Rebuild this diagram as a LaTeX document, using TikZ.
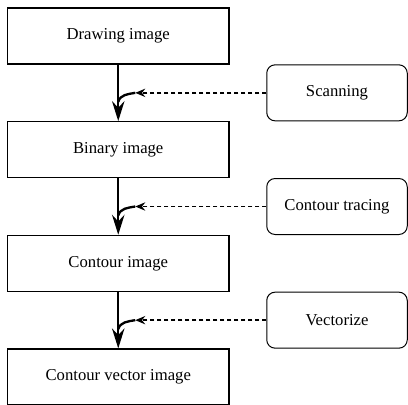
\documentclass[tikz,border=0pt]{standalone}
\usepackage{fontspec}
\setmainfont{Liberation Serif}
\usetikzlibrary{positioning, arrows.meta, calc}

\begin{document}
\begin{tikzpicture}[
  x=0.6pt, y=-0.6pt,
  font=\normalsize,
  node distance=33.9pt,
  >={Stealth[length=12pt,width=7.5pt,inset=4pt]},
  imgbox/.style={
    draw=black, line width=0.7pt,
    minimum width=132.9pt, minimum height=33.6pt, inner sep=2pt
  },
  opbox/.style={
    draw=black, line width=0.6pt, rounded corners=5pt,
    minimum width=84.3pt, minimum height=33.6pt, inner sep=2pt
  },
  flow/.style={->, line width=1pt},
  hint/.style={line width=0.9pt, dash pattern=on 2.6pt off 1.6pt,
    -{Stealth[open,length=6pt,width=5pt,inset=2pt]}},
  hook/.style={line width=1.4pt},
]
\useasboundingbox (0,0) rectangle (408,404);

% image stages
\node[imgbox] (draw) at (118.25,36) {Drawing image};
\node[imgbox, below=of draw] (bin)  {Binary image};
\node[imgbox, below=of bin]  (cont) {Contour image};
\node[imgbox, below=of cont] (vec)  {Contour vector image};

% processing steps
\coordinate (m1) at ($(draw.south)!0.5!(bin.north)$);
\coordinate (m2) at ($(bin.south)!0.5!(cont.north)$);
\coordinate (m3) at ($(cont.south)!0.5!(vec.north)$);
\node[opbox, anchor=west] (scan)  at ($(m1)+(148,0)$) {Scanning};
\node[opbox, anchor=west] (trace) at ($(m2)+(148,0)$) {Contour tracing};
\node[opbox, anchor=west] (vect)  at ($(m3)+(148,0)$) {Vectorize};

% main flow
\draw[flow] (draw) -- (bin);
\draw[flow] (bin)  -- (cont);
\draw[flow] (cont) -- (vec);

% joins
\coordinate (j1) at ($(m1)+(17,0)$);
\coordinate (j2) at ($(m2)+(17,0)$);
\coordinate (j3) at ($(m3)+(17,0)$);
\coordinate (k1) at ($(draw.south)!0.66!(bin.north)$);
\coordinate (k2) at ($(bin.south)!0.66!(cont.north)$);
\coordinate (k3) at ($(cont.south)!0.66!(vec.north)$);

\draw[hint] (scan.west)  -- (j1);
\draw[hint] (trace.west) -- (j2);
\draw[hint] (vect.west)  -- (j3);
\draw[hook] (j1) to[out=190, in=75] (k1);
\draw[hook] (j2) to[out=190, in=75] (k2);
\draw[hook] (j3) to[out=190, in=75] (k3);

\end{tikzpicture}
\end{document}
